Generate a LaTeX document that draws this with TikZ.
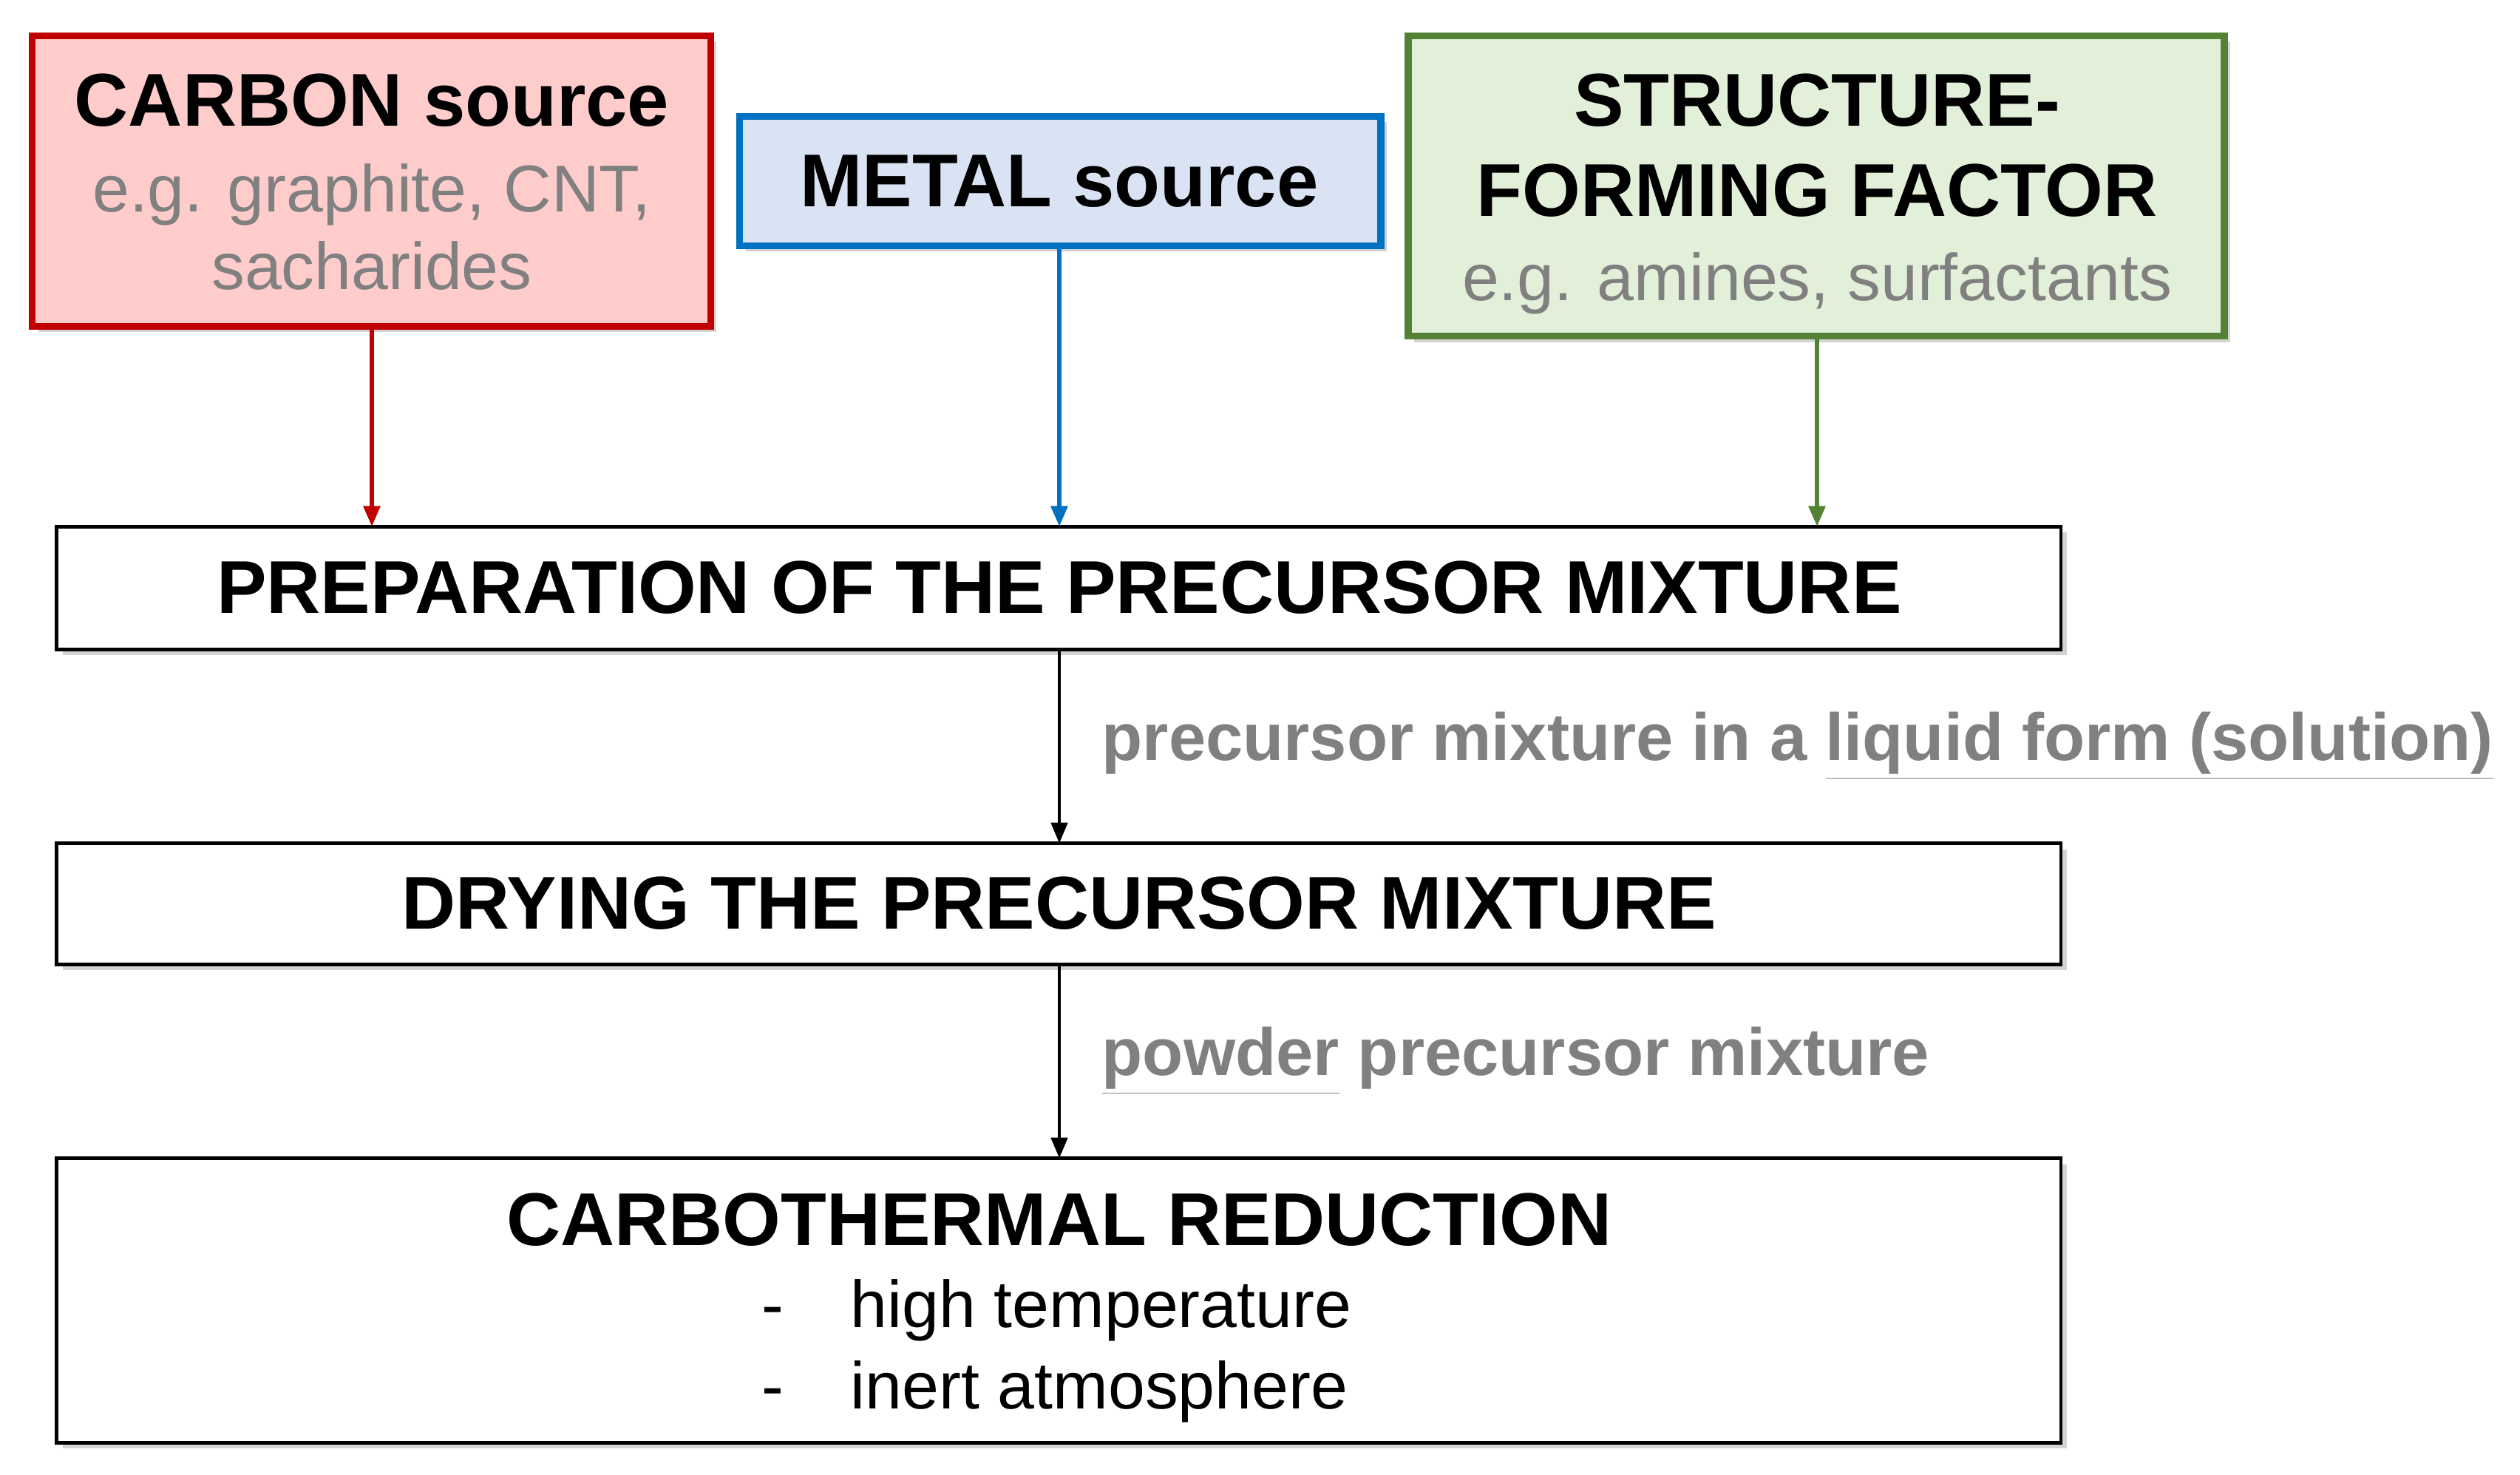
\documentclass[tikz,border=0pt]{standalone}
\usepackage{fontspec}
\setmainfont{Liberation Sans}
\usetikzlibrary{shadows,arrows.meta}
\definecolor{cred}{HTML}{C00000}
\definecolor{cpink}{HTML}{FFCCCC}
\definecolor{cblue}{HTML}{0070C0}
\definecolor{clblue}{HTML}{DAE3F3}
\definecolor{cgreen}{HTML}{548235}
\definecolor{clgreen}{HTML}{E2F0D9}
\definecolor{cgray}{HTML}{808080}
\begin{document}
\begin{tikzpicture}[
  box/.style={draw, line width=#1, drop shadow={shadow xshift=0.08cm, shadow yshift=-0.08cm, opacity=0.35}, inner sep=0pt},
  big/.style={font=\fontsize{28.8}{34}\selectfont\bfseries},
  bigb/.style={big, anchor=base, inner sep=0},
  sub/.style={font=\fontsize{25.5}{31}\selectfont, text=cgray, anchor=base, inner sep=0},
  lab/.style={font=\fontsize{25.7}{31}\selectfont\bfseries, text=cgray, anchor=west, inner sep=0},
  arr/.style={line width=1.4pt, -{Triangle[length=0.28cm,width=0.22cm]}},
]
\useasboundingbox (0,0) rectangle (34.09,-19.95);
% source boxes
\path[box=2.6pt, draw=cred, fill=cpink] (0.437,-0.481) rectangle (9.614,-4.414);
\node[bigb] (carbon) at (5.03,-1.704) {CARBON source};
\node[sub] (carbon2) at (5.03,-2.862) {e.g. graphite, CNT,};
\node[sub] (carbon3) at (5.03,-3.911) {sacharides};
\path[box=2.6pt, draw=cblue, fill=clblue] (10.007,-1.573) rectangle (18.68,-3.321);
\node[big] (metal) at (14.33,-2.447) {METAL source};
\path[box=2.6pt, draw=cgreen, fill=clgreen] (19.05,-0.481) rectangle (30.09,-4.545);
\node[bigb] (struct) at (24.58,-1.704) {STRUCTURE-};
\node[bigb] (struct2) at (24.58,-2.928) {FORMING FACTOR};
\node[sub] (struct3) at (24.58,-4.064) {e.g. amines, surfactants};
% process boxes
\path[box=1.3pt, fill=white] (0.765,-7.123) rectangle (27.88,-8.784);
\node[big] (prep) at (14.33,-7.95) {PREPARATION OF THE PRECURSOR MIXTURE};
\path[box=1.3pt, fill=white] (0.765,-11.406) rectangle (27.88,-13.044);
\node[big] (dry) at (14.33,-12.22) {DRYING THE PRECURSOR MIXTURE};
\path[box=1.3pt, fill=white] (0.765,-15.666) rectangle (27.88,-19.512);
\node[big] (carbo) at (14.33,-16.5) {CARBOTHERMAL REDUCTION};
\node[font=\fontsize{25.5}{31}\selectfont, anchor=base] (d1) at (10.45,-17.95) {-};
\node[font=\fontsize{25.5}{31}\selectfont, anchor=base west, inner sep=0] (l1) at (11.5,-17.95) {high temperature};
\node[font=\fontsize{25.5}{31}\selectfont, anchor=base] (d2) at (10.45,-19.05) {-};
\node[font=\fontsize{25.5}{31}\selectfont, anchor=base west, inner sep=0] (l2) at (11.5,-19.05) {inert atmosphere};
% coordinates
\coordinate (c1) at (5.03,-4.414); \coordinate (c1e) at (5.03,-7.123);
\coordinate (m1) at (14.33,-3.321); \coordinate (m1e) at (14.33,-7.123);
\coordinate (s1) at (24.58,-4.545); \coordinate (s1e) at (24.58,-7.123);
\coordinate (p1) at (14.33,-8.784); \coordinate (p1e) at (14.33,-11.406);
\coordinate (q1) at (14.33,-13.044); \coordinate (q1e) at (14.33,-15.666);
\draw[arr, draw=cred, fill=cred, line width=1.8pt] (c1) -- (c1e);
\draw[arr, draw=cblue, fill=cblue, line width=1.8pt] (m1) -- (m1e);
\draw[arr, draw=cgreen, fill=cgreen, line width=1.8pt] (s1) -- (s1e);
\draw[arr] (p1) -- (p1e);
\draw[arr] (q1) -- (q1e);
% labels
\node[lab] (lab1) at (14.9,-10.09) {precursor mixture in a \underline{liquid form (solution)}};
\node[lab] (lab2) at (14.9,-14.35) {\underline{powder} precursor mixture};
\end{tikzpicture}
\end{document}
